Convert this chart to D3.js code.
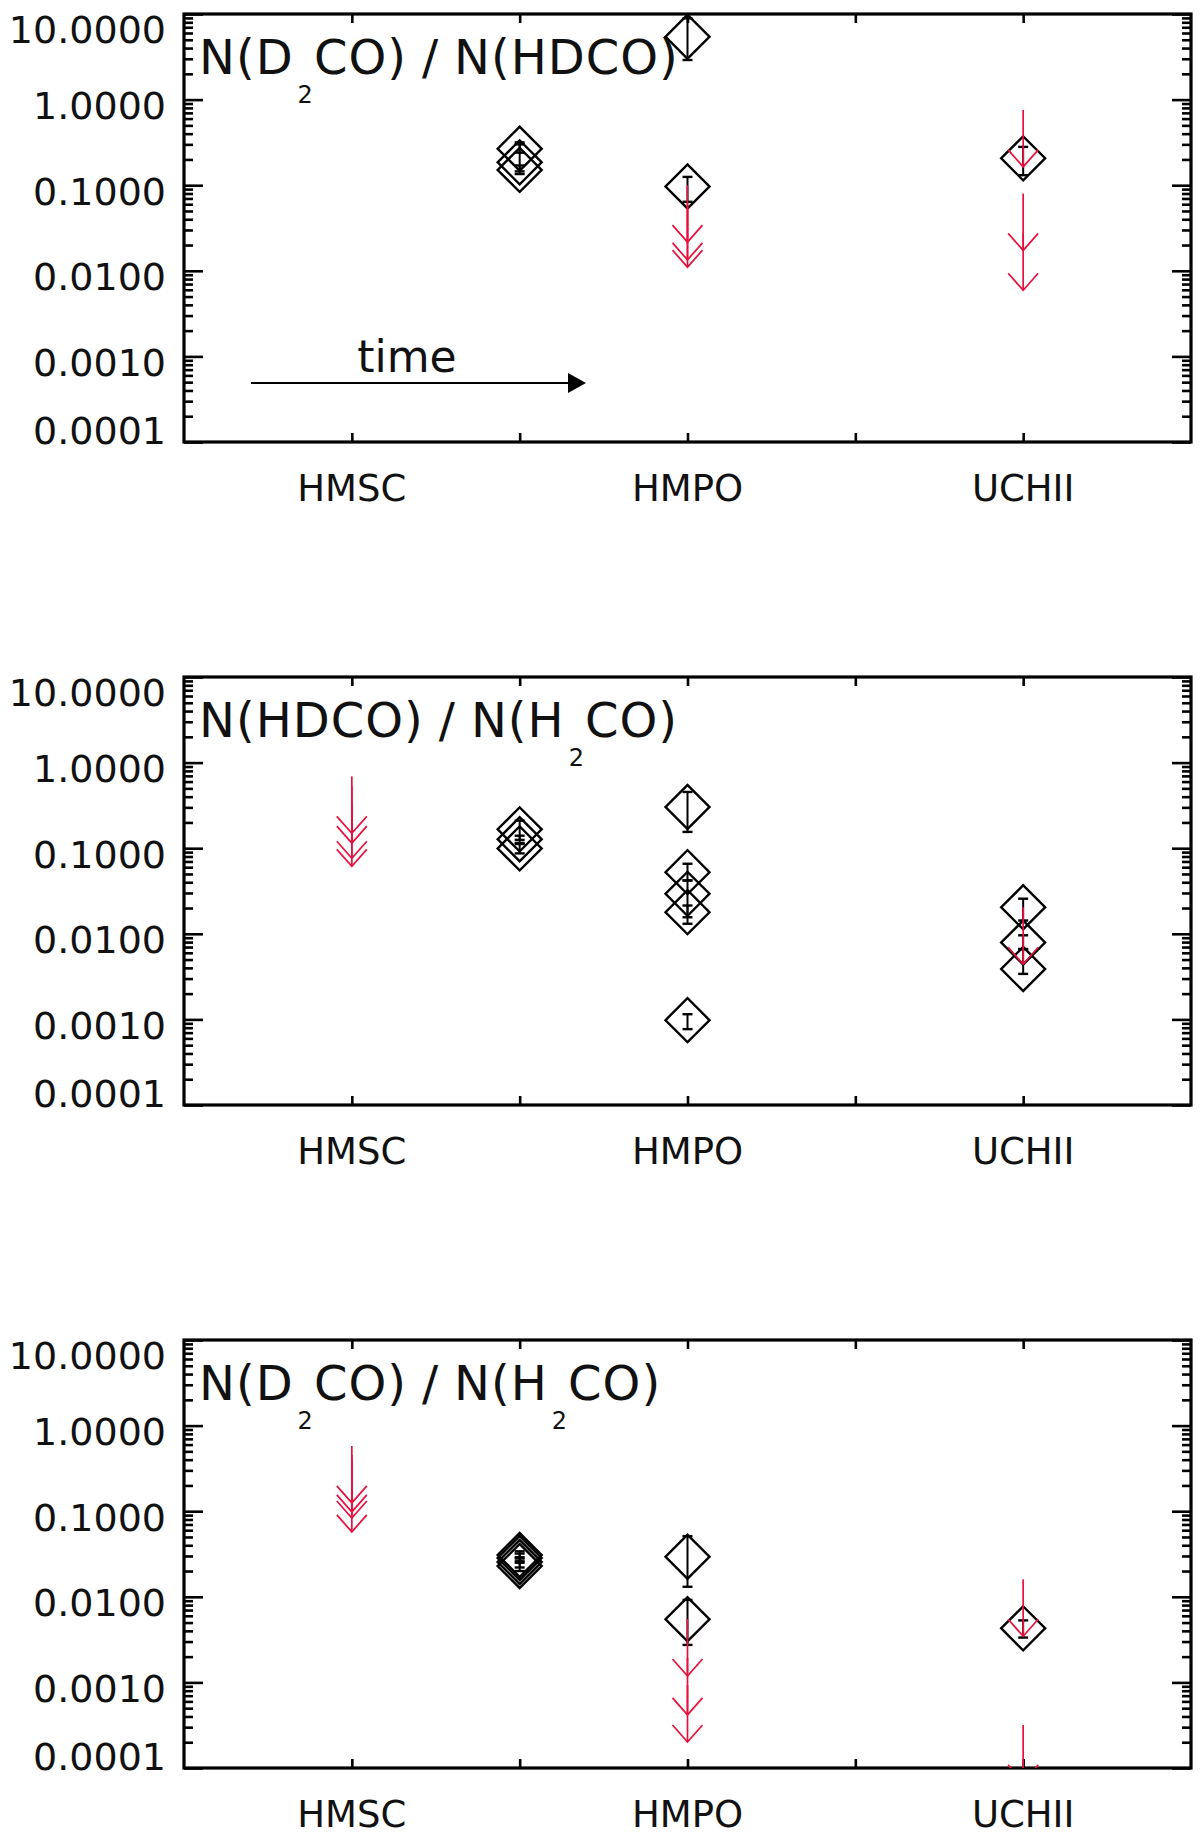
<!DOCTYPE html>
<html><head><meta charset="utf-8">
<script src="https://cdn.jsdelivr.net/npm/d3@7"></script>
<style>body{margin:0;background:#fff}svg{display:block}</style>
</head><body>
<svg id="chart" width="1200" height="1841"></svg>
<script>
// ---------- data ----------
const categories = ["HMSC", "HMPO", "UCHII"];
const categoryPositions = [1, 3, 5];
const xTickValues = [1, 2, 3, 4, 5];
const yTickValues = [1e-4, 1e-3, 1e-2, 1e-1, 1, 10];
const yTickLabels = ["0.0001", "0.0010", "0.0100", "0.1000", "1.0000", "10.0000"];

// Panel 1: N(D2CO)/N(HDCO)
const p1DetX  = [2, 2, 2, 3, 3, 5];
const p1DetV  = [0.267, 0.185, 0.151, 5.43, 0.0966, 0.206];
const p1DetLo = [0.24, 0.145, 0.135, 2.9, 0.064, 0.131];
const p1DetHi = [0.30, 0.316, 0.17, 8.9, 0.125, 0.28];
const p1LimX  = [3, 3, 3, 5, 5, 5];
const p1LimV  = [0.1, 0.062, 0.051, 0.757, 0.080, 0.0274];

// Panel 2: N(HDCO)/N(H2CO)
const p2DetX  = [2, 2, 2, 3, 3, 3, 3, 3, 5, 5, 5];
const p2DetV  = [0.166, 0.127, 0.0995, 0.303, 0.0525, 0.0293, 0.0179, 0.00098, 0.0204, 0.0079, 0.00388];
const p2DetLo = [0.125, 0.115, 0.087, 0.155, 0.042, 0.0156, 0.0131, 0.00077, 0.0143, 0.00665, 0.0034];
const p2DetHi = [0.21, 0.14, 0.112, 0.454, 0.0658, 0.042, 0.0214, 0.00115, 0.0257, 0.0096, 0.0066];
const p2LimX  = [1, 1, 1, 1, 5];
const p2LimV  = [0.69, 0.53, 0.353, 0.284, 0.0204];

// Panel 3: N(D2CO)/N(H2CO)
const p3DetX  = [2, 2, 2, 2, 3, 3, 5];
const p3DetV  = [0.0308, 0.0284, 0.0255, 0.0229, 0.0294, 0.00546, 0.00428];
const p3DetLo = [0.028, 0.025, 0.022, 0.020, 0.0131, 0.00274, 0.00334];
const p3DetHi = [0.034, 0.032, 0.029, 0.026, 0.051, 0.0092, 0.0053];
const p3LimX  = [1, 1, 1, 1, 3, 3, 3, 5, 5];
const p3LimV  = [0.578, 0.454, 0.385, 0.265, 0.0055, 0.00193, 0.00093, 0.016, 0.000318];

const p1Title = [["N(D", false], ["2", true], ["CO)/N(HDCO)", false]];
const p2Title = [["N(HDCO)/N(H", false], ["2", true], ["CO)", false]];
const p3Title = [["N(D", false], ["2", true], ["CO)/N(H", false], ["2", true], ["CO)", false]];

// ---------- layout / style ----------
const L = 184, R = 1191, H = 428;
const panelTops = [14, 677, 1340];
const RED = "#e8103c";
const FONT = "'DejaVu Sans', sans-serif";
const arrowDex = 0.665;

const svg = d3.select("#chart");
svg.append("rect").attr("width", 1200).attr("height", 1841).attr("fill", "#fff");

const minorTicks = [];
for (let e = -4; e <= 0; e++) for (let k = 2; k <= 9; k++) minorTicks.push(k * Math.pow(10, e));

function drawPanel(idx, top, det, lim, titleParts, showTime) {
  const g = svg.append("g");
  const x = d3.scaleLinear().domain([0, 6]).range([L, R]);
  const y = d3.scaleLog().domain([1e-4, 10]).range([top + H, top]);
  const bottom = top + H;

  const tickStyle = sel => { sel.select(".domain").remove(); sel.selectAll("line").attr("stroke", "#000").attr("stroke-width", 2.6); sel.selectAll("text").remove(); };
  g.append("g").attr("transform", `translate(${L},0)`).call(d3.axisRight(y).tickValues(yTickValues).tickSize(19).tickSizeOuter(0)).call(tickStyle);
  g.append("g").attr("transform", `translate(${L},0)`).call(d3.axisRight(y).tickValues(minorTicks).tickSize(9).tickSizeOuter(0)).call(tickStyle);
  g.append("g").attr("transform", `translate(${R},0)`).call(d3.axisLeft(y).tickValues(yTickValues).tickSize(19).tickSizeOuter(0)).call(tickStyle);
  g.append("g").attr("transform", `translate(${R},0)`).call(d3.axisLeft(y).tickValues(minorTicks).tickSize(9).tickSizeOuter(0)).call(tickStyle);
  g.append("g").attr("transform", `translate(0,${bottom})`).call(d3.axisTop(x).tickValues(xTickValues).tickSize(9).tickSizeOuter(0)).call(tickStyle);
  g.append("g").attr("transform", `translate(0,${top})`).call(d3.axisBottom(x).tickValues(xTickValues).tickSize(9).tickSizeOuter(0)).call(tickStyle);

  g.append("rect").attr("x", L).attr("y", top).attr("width", R - L).attr("height", H)
    .attr("fill", "none").attr("stroke", "#000").attr("stroke-width", 3.2);

  g.selectAll(".ylab").data(yTickValues).enter().append("text")
    .attr("x", 166)
    .attr("y", (d, i) => {
      const yy = y(d);
      if (i === yTickValues.length - 1) return yy + 15;
      if (i === 0) return yy - 12;
      return yy + 6;
    })
    .attr("dy", "0.36em")
    .attr("text-anchor", "end")
    .attr("font-family", FONT).attr("font-size", 38).attr("fill", "#111")
    .text((d, i) => yTickLabels[i]);

  g.selectAll(".xlab").data(categories).enter().append("text")
    .attr("x", (d, i) => x(categoryPositions[i]))
    .attr("y", bottom + 59)
    .attr("text-anchor", "middle")
    .attr("font-family", FONT).attr("font-size", 37).attr("fill", "#111")
    .text(d => d);

  const t = g.append("text").attr("x", 199).attr("y", top + 60)
    .attr("font-family", FONT).attr("font-size", 48).attr("fill", "#111").attr("letter-spacing", 1);
  let sub = false;
  titleParts.forEach(([s, isSub]) => {
    if (isSub) {
      const ts = t.append("tspan").text(s).attr("font-size", 24).attr("dx", 4);
      if (!sub) { ts.attr("dy", 29); sub = true; }
      return;
    }
    const pieces = s.split("/");
    pieces.forEach((p, j) => {
      if (j > 0) t.append("tspan").text("/").attr("dx", 15);
      if (p.length === 0) return;
      const ts = t.append("tspan").text(p);
      if (sub) { ts.attr("dy", -29); sub = false; }
      if (j > 0) ts.attr("dx", 15);
    });
  });

  const detG = g.append("g");
  det.x.forEach((xv, i) => {
    const cx = x(xv);
    const cy = y(det.v[i]);
    detG.append("path")
      .attr("d", d3.symbol(d3.symbolSquare, 968)())
      .attr("transform", `translate(${cx},${cy}) rotate(45)`)
      .attr("fill", "none").attr("stroke", "#000").attr("stroke-width", 2.4);
    const y1 = y(det.hi[i]), y2 = y(det.lo[i]);
    detG.append("line").attr("x1", cx).attr("x2", cx).attr("y1", y1).attr("y2", y2)
      .attr("stroke", "#000").attr("stroke-width", 2);
    [y1, y2].forEach(yy => detG.append("line").attr("x1", cx - 5).attr("x2", cx + 5).attr("y1", yy).attr("y2", yy)
      .attr("stroke", "#000").attr("stroke-width", 2.4));
  });

  const clipId = "clip" + idx;
  svg.append("defs").append("clipPath").attr("id", clipId)
    .append("rect").attr("x", L).attr("y", top).attr("width", R - L).attr("height", H);
  const limG = g.append("g").attr("clip-path", `url(#${clipId})`);
  lim.x.forEach((xv, i) => {
    const cx = x(xv);
    const y0 = y(lim.v[i]);
    const tip = y(lim.v[i] / Math.pow(10, arrowDex));
    limG.append("line").attr("x1", cx).attr("x2", cx).attr("y1", y0).attr("y2", tip)
      .attr("stroke", RED).attr("stroke-width", 1.7);
    limG.append("path").attr("d", `M${cx - 15},${tip - 17}L${cx},${tip}L${cx + 15},${tip - 17}`)
      .attr("fill", "none").attr("stroke", RED).attr("stroke-width", 1.7);
  });

  if (showTime) {
    g.append("text").attr("x", 407).attr("y", top + 358).attr("text-anchor", "middle")
      .attr("font-family", FONT).attr("font-size", 44).attr("fill", "#111").text("time");
    const ay = top + 369;
    g.append("line").attr("x1", 251).attr("x2", 572).attr("y1", ay).attr("y2", ay)
      .attr("stroke", "#000").attr("stroke-width", 2.2);
    g.append("path").attr("d", `M568,${ay - 10}L586,${ay}L568,${ay + 10}Z`).attr("fill", "#000");
  }
}

drawPanel(1, panelTops[0],
  { x: p1DetX, v: p1DetV, lo: p1DetLo, hi: p1DetHi }, { x: p1LimX, v: p1LimV }, p1Title, true);
drawPanel(2, panelTops[1],
  { x: p2DetX, v: p2DetV, lo: p2DetLo, hi: p2DetHi }, { x: p2LimX, v: p2LimV }, p2Title, false);
drawPanel(3, panelTops[2],
  { x: p3DetX, v: p3DetV, lo: p3DetLo, hi: p3DetHi }, { x: p3LimX, v: p3LimV }, p3Title, false);
</script>
</body></html>
